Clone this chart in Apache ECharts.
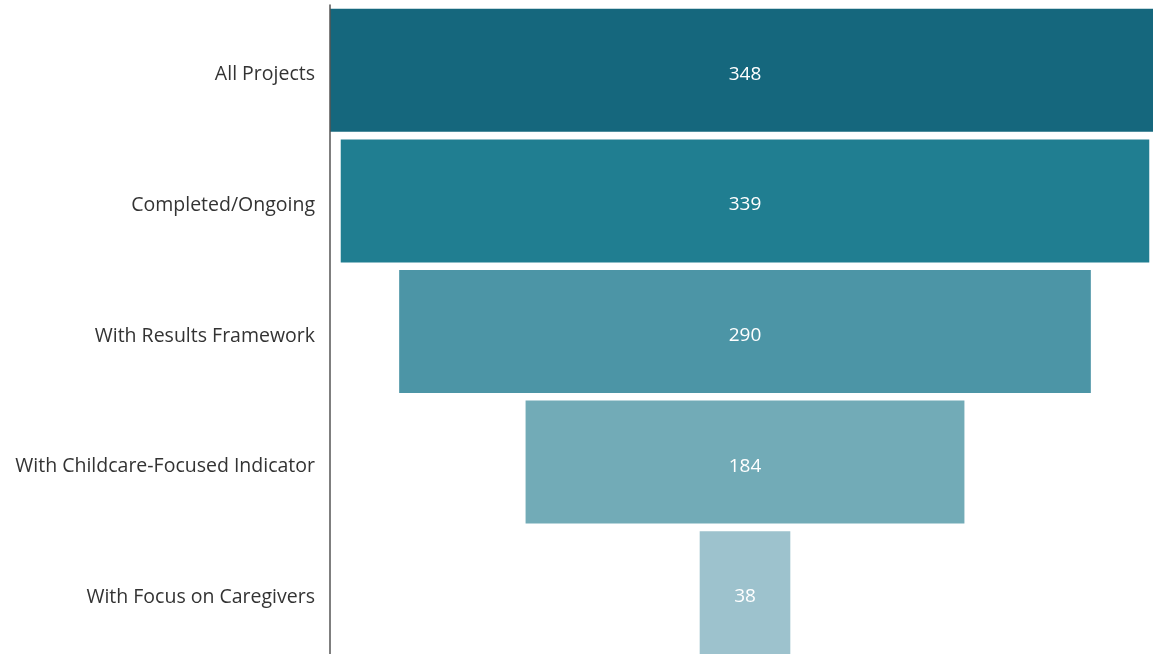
<!DOCTYPE html>
<html>
<head>
<meta charset="utf-8">
<script src="https://cdn.jsdelivr.net/npm/echarts@6/dist/echarts.min.js"></script>
<style>
  html, body { margin: 0; padding: 0; background: #fff; overflow: hidden; }
  #chart { width: 1160px; height: 658px; }
</style>
</head>
<body>
<div id="chart"></div>
<script>
// Project pipeline stages and counts
const stages = [
  'All Projects',
  'Completed/Ongoing',
  'With Results Framework',
  'With Childcare-Focused Indicator',
  'With Focus on Caregivers'
];
const counts = [348, 339, 290, 184, 38];
const stageColors = ['#15677d', '#207e91', '#4c95a6', '#72abb7', '#9dc2cd'];

const maxCount = Math.max(...counts);
// Transparent spacer so each bar is centred on the widest one
const spacer = counts.map(v => (maxCount - v) / 2);

const chart = echarts.init(document.getElementById('chart'));
chart.setOption({
  animation: false,
  grid: { left: 330, right: 0, top: 5, bottom: 0 },
  xAxis: {
    type: 'value', min: 0, max: maxCount, show: false
  },
  yAxis: {
    type: 'category',
    data: stages,
    inverse: true,
    axisLine: { show: true, lineStyle: { color: '#555', width: 1.5 } },
    axisTick: { show: false },
    axisLabel: {
      margin: 15,
      formatter: v => '{a|' + v + '}',
      rich: {
        a: {
          color: '#333',
          fontSize: 19.5,
          fontFamily: 'Open Sans',
          padding: [9, 0, 0, 0]
        }
      }
    },
    z: 5
  },
  series: [
    {
      type: 'bar', stack: 'funnel',
      data: spacer,
      itemStyle: { color: 'transparent' },
      barWidth: 123,
      silent: true
    },
    {
      type: 'bar', stack: 'funnel',
      data: counts.map((v, i) => ({ value: v, itemStyle: { color: stageColors[i] } })),
      barWidth: 123,
      label: {
        show: true,
        position: 'inside',
        color: '#fff',
        fontSize: 19,
        fontFamily: 'Open Sans',
        offset: [0, 4]
      }
    }
  ]
});
</script>
</body>
</html>
